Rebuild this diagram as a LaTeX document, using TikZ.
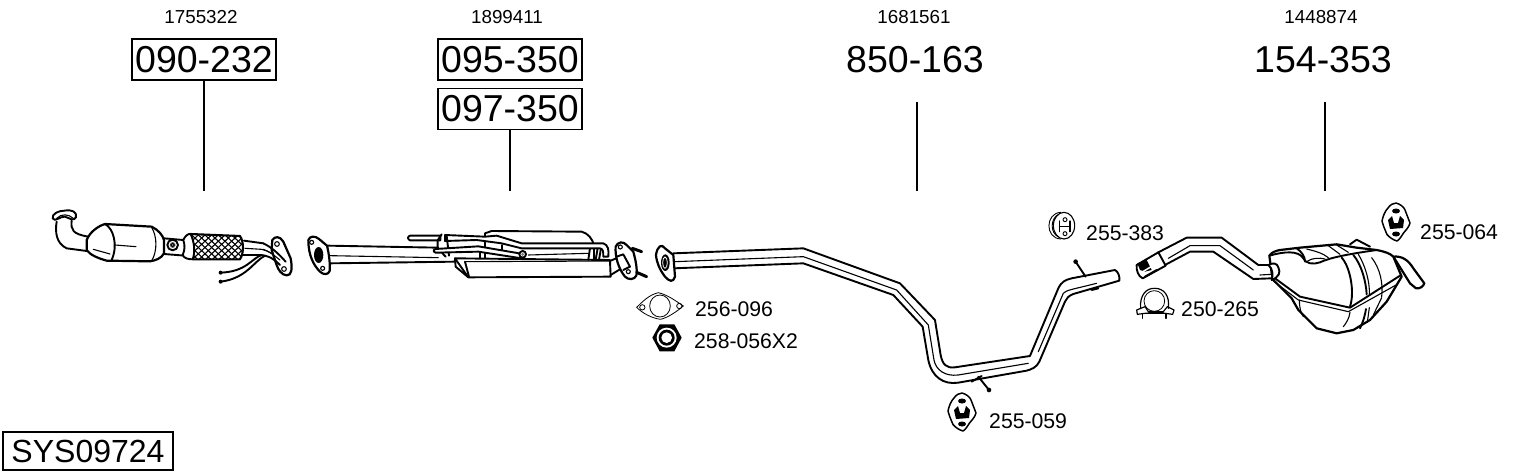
\documentclass[tikz,border=0pt]{standalone}
\usepackage{fontspec}
\setmainfont{Liberation Sans}
\usetikzlibrary{positioning,calc}
\tikzset{
	partline/.style = {
		line width = 1.9pt,
		line join = round,
		line cap = round
	},
	detail/.style = {
		line width = 1.1pt,
		line cap = round
	},
	oem/.style = {
		font = \fontsize{18.8}{20}\selectfont,
		inner sep = 0pt
	},
	partno/.style = {
		font = \fontsize{37.5}{38}\selectfont,
		inner sep = 0pt,
		minimum width = 144pt,
		minimum height = 41pt
	},
	boxed/.style = {
		draw,
		line width = 1.3pt
	},
	acc/.style = {
		font = \fontsize{21.2}{22}\selectfont,
		inner sep = 0pt,
		anchor = west
	},
	leader/.style = {
		line width = 1.4pt
	},
	hanger/.pic = {
		\draw[partline, line width = 1.5pt, fill = white] (0,-19) .. controls (4,-18) and (8,-15) .. (9,-12) -- (14,1) .. controls (13,5) and (10,8) .. (7.5,11) .. controls (5,15) and (3,18) .. (1,19) .. controls (-3,18) and (-7,15) .. (-9,12.5) .. controls (-11,8) and (-13,3) .. (-14,-1) .. controls (-13,-6) and (-11,-11) .. (-8,-14) .. controls (-6,-17) and (-3,-19) .. (0,-19) -- cycle;
		\fill (0,-11) ellipse (4 and 2.5);
		\fill (0,12) ellipse (4 and 2.5);
		\fill (-8,-2) -- (-4,-6) -- (-2,1) -- (2,1) -- (4,-6) -- (8,-2) -- (7,6) -- (-6,7) -- cycle;
	}
}

\begin{document}
\begin{tikzpicture}[x = 1pt, y = -1pt]
\useasboundingbox (0,0) rectangle (1530,474);

% part numbers
\node (oemA) [oem] at (201,17) {1755322};
\node (oemB) [oem] at (507,17) {1899411};
\node (oemC) [oem] at (914,17) {1681561};
\node (oemD) [oem] at (1321,17) {1448874};
\node (noA) [partno, boxed] at (204,59.5) {090-232};
\node (noB) [partno, boxed] at (510,59.5) {095-350};
\node (noE) [partno, boxed, below = 7pt of noB] {097-350};
\node (noC) [partno] at (915,59.5) {850-163};
\node (noD) [partno] at (1323,59.5) {154-353};
\node (sys) [draw, line width = 1.3pt, font = \fontsize{32}{33}\selectfont, inner sep = 0pt, minimum width = 170pt, minimum height = 38pt] at (88,451) {SYS09724};

\coordinate (catTop) at (204,191);
\coordinate (midTop) at (510,191);
\coordinate (pipeTop) at (917,191);
\coordinate (silTop) at (1325,191);
\draw[leader] (noA.south) -- (catTop);
\draw[leader] (noE.south) -- (midTop);
\draw[leader] (noC.south -| pipeTop) ++(0,22) -- (pipeTop);
\draw[leader] (noD.south -| silTop) ++(0,22) -- (silTop);

% catalyst
\begin{scope}[shift = {(30,190)}, x = .3333pt, y = -.3333pt]
\draw[partline] (80,95) .. controls (75,125) and (78,160) .. (110,175) -- (178,184);
\draw[partline] (125,92) .. controls (122,120) and (128,132) .. (175,140);
\draw[partline, fill = white] (103,62) .. controls (125,58) and (142,65) .. (138,82) .. controls (130,95) and (120,85) .. (105,80) .. controls (90,78) and (75,98) .. (68,85) .. controls (65,72) and (85,62) .. (103,62) -- cycle;
\draw[detail] (80,85) .. controls (95,70) and (115,72) .. (130,85);
\draw[partline, line width = 2.2pt, fill = white] (170,150) .. controls (180,125) and (205,108) .. (225,102) -- (365,110) .. controls (385,120) and (398,135) .. (402,150) -- (402,190) .. controls (395,205) and (375,212) .. (360,214) -- (230,212) .. controls (205,205) and (180,195) .. (170,180) -- cycle;
\draw[partline] (225,102) .. controls (250,115) and (265,165) .. (245,210);
\draw[detail] (365,112) .. controls (382,140) and (382,185) .. (365,212);
\draw[detail] (190,178) -- (240,192);
\draw[detail] (255,165) -- (318,170);
\draw[partline] (402,145) -- (460,150);
\draw[partline] (402,192) -- (465,197);
\draw[partline, fill = white] (428,165) circle (16);
\fill[gray] (428,165) circle (9);
\draw[detail, fill = white] (428,165) circle (5);
% braid
\begin{scope}
\clip (480,132) -- (630,138) -- (642,170) -- (630,208) -- (490,208) -- cycle;
\foreach \x in {400,420,...,700} {
	\draw[line width = 1.1pt] (\x,130) -- (\x+90,215);
	\draw[line width = 1.1pt] (\x+90,130) -- (\x,215);
}
\end{scope}
\draw[partline, line width = 2.1pt] (480,132) -- (630,138) .. controls (642,155) and (642,190) .. (630,208) -- (490,208);
\draw[partline, fill = white] (460,150) .. controls (465,138) and (475,130) .. (482,132) .. controls (495,160) and (495,190) .. (488,208) .. controls (475,208) and (462,205) .. (458,195) .. controls (465,180) and (465,165) .. (460,150) -- cycle;
\draw[partline] (642,152) -- (700,160);
\draw[partline] (640,195) -- (690,195);
\draw[detail] (645,175) -- (695,178) .. controls (715,182) and (735,195) .. (750,210);
\draw[partline, fill = white, line width = 2.2pt] (727,150) .. controls (735,138) and (750,138) .. (760,155) -- (782,205) .. controls (788,235) and (785,258) .. (770,256) .. controls (755,255) and (745,240) .. (740,225) -- (725,180) -- cycle;
\draw[detail, fill = white] (741,162) circle (7);
\draw[detail, fill = white] (762,237) circle (7);
\draw[partline] (767,215) .. controls (745,190) and (725,172) .. (700,160);
\draw[partline] (750,225) .. controls (735,208) and (715,196) .. (690,195);
\draw[detail] (700,178) .. controls (720,185) and (735,198) .. (750,210);
\draw[partline] (695,195) .. controls (665,205) and (650,245) .. (572,248);
\draw[partline] (705,197) .. controls (670,215) and (650,265) .. (572,275);
\fill (572,248) circle (6);
\fill (572,275) circle (6);
\end{scope}

% flange and middle silencer
\begin{scope}[shift = {(295,215)}, x = .3333pt, y = -.3333pt]
\draw[partline] (100,92) -- (430,98);
\draw[detail] (105,122) -- (430,128);
\draw[partline] (105,145) -- (480,140);
\draw[partline, fill = white, line width = 2.2pt] (40,75) .. controls (45,62) and (60,62) .. (72,72) -- (96,92) .. controls (102,115) and (106,150) .. (104,168) .. controls (100,180) and (85,180) .. (75,170) .. controls (55,150) and (40,120) .. (40,75) -- cycle;
\fill (71,120) ellipse (14 and 24);
\draw[detail, fill = white] (50,82) circle (6);
\draw[detail, fill = white] (83,160) circle (6);
% body
\draw[partline, fill = white] (570,55) -- (590,48) -- (860,50) .. controls (880,55) and (892,72) .. (897,90) -- (897,135) -- (570,135) -- cycle;
\draw[partline, fill = white] (480,130) -- (945,135) -- (947,185) -- (520,187) -- cycle;
\draw[detail] (510,140) -- (945,138);
\draw[partline] (510,140) -- (522,185);
\draw[partline] (480,130) -- (482,155) -- (520,187);
\draw[partline] (885,100) -- (880,135);
\draw[partline] (908,100) -- (902,135);
\draw[partline] (918,100) -- (912,135);
\draw[partline] (620,90) -- (620,120);
\draw[detail] (700,120) -- (880,115);
% tubes
\draw[partline, fill = white] (345,62) -- (436,62) -- (436,76) -- (345,76) .. controls (337,72) and (337,65) .. (345,62) -- cycle;
\draw[partline, fill = white] (450,60) -- (570,65) -- (605,62) -- (680,85) -- (925,85) .. controls (940,90) and (942,105) .. (940,125) -- (925,125) .. controls (925,110) and (925,102) .. (915,100) -- (680,100) -- (620,85) -- (545,75) -- (450,78) -- cycle;
\draw[partline] (440,58) -- (428,76) -- (428,100) -- (452,125);
\draw[partline] (455,62) -- (462,122);
\draw[partline, fill = white] (422,102) -- (550,94) -- (690,118) -- (680,130) -- (550,110) -- (422,113) .. controls (414,110) and (414,104) .. (422,102) -- cycle;
\draw[partline, fill = white] (683,118) circle (10);
\fill[gray] (683,118) circle (5);
\draw[partline] (555,112) -- (555,130);
% right flange
\draw[partline] (945,138) -- (975,125);
\draw[partline] (947,180) -- (980,160);
\draw[partline, fill = white, line width = 2.2pt] (962,95) .. controls (968,80) and (985,78) .. (995,90) -- (1015,110) .. controls (1022,135) and (1028,165) .. (1024,182) .. controls (1018,195) and (1000,195) .. (990,185) .. controls (970,160) and (960,125) .. (962,95) -- cycle;
\draw[partline] (965,125) -- (985,118) -- (1005,155);
\draw[partline] (985,165) -- (1005,155);
\draw[detail, fill = white] (976,96) circle (6);
\draw[detail, fill = white] (1000,170) circle (6);
\draw[partline, line width = 3pt] (1012,100) -- (1040,110);
\draw[partline, line width = 3pt] (1025,172) -- (1055,185);
\end{scope}

% long pipe
\begin{scope}[shift = {(630,220)}, x = .3333pt, y = -.3333pt]
\draw[partline] (130,100) -- (520,85) -- (810,190) -- (915,300) -- (932,405) .. controls (938,435) and (950,445) .. (975,442) -- (1200,408) -- (1285,205) .. controls (1295,185) and (1305,180) .. (1325,175) -- (1455,150) .. controls (1465,155) and (1470,170) .. (1468,182) -- (1330,222) .. controls (1315,228) and (1310,235) .. (1305,245) -- (1228,425) .. controls (1220,442) and (1205,448) .. (1190,452) -- (985,488) .. controls (940,495) and (905,470) .. (895,420) -- (878,320) -- (790,225) -- (520,130) -- (130,145);
\draw[detail] (135,125) -- (520,110) -- (800,210) -- (895,315) -- (912,420) .. controls (918,450) and (945,470) .. (985,465) -- (1195,430);
\draw[detail] (1225,395) -- (1300,220) .. controls (1310,210) and (1320,210) .. (1400,190);
\draw[partline] (1367,170) -- (1337,125);
\fill (1337,125) circle (7);
\draw[partline] (1045,470) -- (1077,510);
\fill (1077,510) circle (7);
\draw[partline] (1025,485) -- (1055,468);
\draw[partline] (1385,210) -- (1405,205);
\draw[partline, fill = white, line width = 2.2pt] (78,105) .. controls (82,78) and (95,70) .. (105,85) -- (130,105) -- (135,170) .. controls (130,188) and (118,185) .. (105,170) .. controls (90,150) and (80,130) .. (78,105) -- cycle;
\fill (106,128) ellipse (13 and 25);
\draw[white, line width = .8pt] (105,128) ellipse (7 and 17);
% gasket
\node (gasket) [inner sep = 0pt, minimum size = 0pt] at (90,258) {};
\draw[detail, line width = .8pt] (20,262) .. controls (35,248) and (55,225) .. (85,218) .. controls (115,225) and (140,245) .. (160,258) .. controls (140,275) and (115,292) .. (92,298) .. controls (65,295) and (35,278) .. (20,262) -- cycle;
\draw[detail, line width = .8pt] (gasket) ellipse (31 and 33);
\draw[detail, line width = .8pt] (37,262) circle (8);
\draw[detail, line width = .8pt] (148,258) circle (8);
% nut
\fill (89,313) -- (133,313) -- (155,353) -- (133,394) -- (89,394) -- (67,353) -- cycle;
\fill[white] (110,353) circle (30);
\fill (110,353) circle (24);
\fill[white] (110,353) circle (16);
\end{scope}

% accessories
\node (lblGasket) [acc] at (695,309) {256-096};
\node (lblNut) [acc] at (694,341) {258-056X2};
\node (lblLow) [acc] at (989,421) {255-059};
\node (lblRing) [acc] at (1086,233) {255-383};
\node (lblClamp) [acc] at (1181,309) {250-265};
\node (lblTop) [acc] at (1420,232) {255-064};

\pic at (962,412) {hanger};
\pic at (1396,222) {hanger};

% rubber ring
\begin{scope}[shift = {(1040,205)}, x = .3333pt, y = -.3333pt]
\draw[partline, line width = 1.1pt] (72,62) ellipse (32 and 40);
\draw[detail, line width = .9pt] (62,22) .. controls (15,25) and (15,100) .. (62,102);
\draw[detail, line width = .9pt] (56,28) .. controls (30,40) and (30,85) .. (56,96);
\draw[partline, line width = 1.2pt] (58,48) -- (58,80) (90,48) -- (90,80) (58,64) -- (90,64);
\draw[detail, line width = .9pt] (75,44) circle (6);
\draw[detail, line width = .9pt] (75,86) circle (6);
\end{scope}

% clamp
\begin{scope}[shift = {(1130,245)}, x = .3333pt, y = -.3333pt]
\draw[detail, line width = .8pt] (73,168) circle (31);
\draw[partline, line width = 1.2pt] (32,190) .. controls (28,150) and (50,128) .. (75,130) .. controls (100,130) and (120,150) .. (115,190);
\draw[partline, line width = 1.2pt] (20,195) -- (45,185) -- (55,200) -- (100,200) -- (112,185) -- (132,195) -- (128,208) -- (105,205) -- (45,205) -- (22,208) -- cycle;
\draw[partline, line width = 1.6pt] (38,208) -- (38,220);
\draw[partline, line width = 1.6pt] (108,206) -- (108,220);
\end{scope}

% tail pipe
\begin{scope}[shift = {(1130,195)}, x = .3333pt, y = -.3333pt]
\draw[partline] (85,172) -- (170,128) -- (275,128) -- (385,210) -- (420,210);
\draw[partline] (105,210) -- (180,170) -- (250,170) -- (370,252) -- (425,250);
\draw[detail] (115,190) -- (180,152) -- (270,152) -- (370,225);
\draw[detail] (390,240) -- (425,238);
\draw[partline, fill = white] (20,210) -- (85,172) -- (107,212) -- (38,250) .. controls (25,245) and (18,225) .. (20,210) -- cycle;
\fill (22,205) -- (50,195) -- (65,225) -- (45,230) -- (30,225) -- cycle;
\draw[white, line width = 1.5pt] (35,232) -- (80,205);
\draw[partline] (45,245) -- (80,225);
\end{scope}

% silencer
\begin{scope}[shift = {(1260,235)}, x = .3333pt, y = -.3333pt]
\draw[partline, line width = 2.2pt, fill = white] (400,65) .. controls (425,62) and (445,75) .. (460,100) -- (493,145) .. controls (490,155) and (478,162) .. (468,160) -- (450,145) -- (425,105) -- cycle;
\draw[partline, line width = 2.2pt, fill = white] (28,62) .. controls (35,52) and (45,48) .. (60,45) -- (120,38) -- (230,28) -- (290,38) -- (350,45) .. controls (375,50) and (390,55) .. (400,65) -- (425,125) -- (380,200) -- (330,255) -- (280,285) -- (230,295) -- (170,280) -- (115,225) -- (95,190) -- (40,135) -- (35,115) -- cycle;
\draw[partline] (45,130) -- (120,185) -- (270,218) -- (420,122);
\draw[detail] (40,138) -- (115,195) -- (265,230) -- (408,150);
\draw[partline] (28,62) .. controls (70,50) and (115,45) .. (130,70) .. controls (135,85) and (160,90) .. (180,82) .. controls (210,68) and (260,58) .. (350,45);
\draw[partline] (110,40) .. controls (125,50) and (135,65) .. (135,80);
\draw[detail] (140,42) .. controls (165,48) and (190,55) .. (205,68);
\draw[detail] (140,80) .. controls (155,68) and (180,68) .. (195,72);
\draw[detail] (205,32) -- (240,58);
\draw[detail] (230,30) -- (265,52);
\draw[partline] (245,68) .. controls (270,95) and (285,170) .. (270,215);
\draw[partline] (280,60) .. controls (305,90) and (318,140) .. (320,178);
\draw[detail] (295,58) .. controls (315,90) and (330,140) .. (328,178);
\draw[detail] (335,68) .. controls (360,100) and (370,145) .. (365,185);
\draw[partline] (318,222) .. controls (315,240) and (310,260) .. (300,280);
\draw[detail] (328,218) -- (322,262);
\draw[detail] (118,195) .. controls (118,215) and (122,235) .. (130,245);
\draw[detail] (270,232) .. controls (268,250) and (258,265) .. (250,275);
\draw[detail] (365,188) -- (340,240);
% inlet
\draw[partline, fill = white] (25,90) .. controls (40,82) and (52,85) .. (55,97) .. controls (62,113) and (58,125) .. (35,135) .. controls (40,120) and (38,100) .. (25,90) -- cycle;
% bracket
\draw[partline] (270,28) -- (290,14) -- (330,35);
\end{scope}

\end{tikzpicture}
\end{document}
